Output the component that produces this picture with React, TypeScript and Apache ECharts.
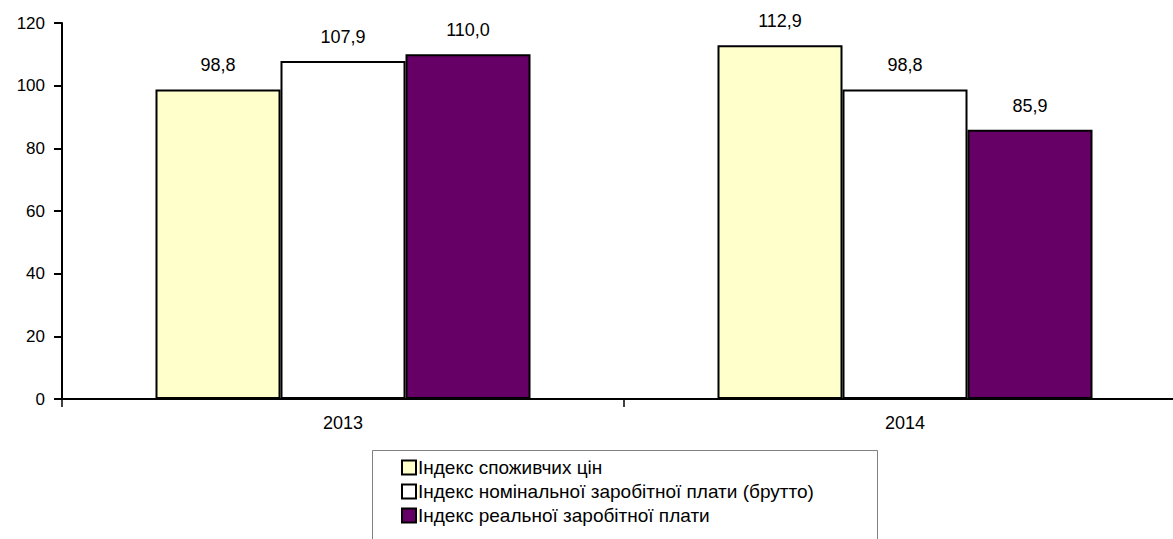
import React, { useEffect, useRef } from "react";
import * as echarts from "echarts";

const categories = ["2013", "2014"];
const seriesNames = [
  "Індекс споживчих цін",
  "Індекс номінальної заробітної плати (брутто)",
  "Індекс реальної заробітної плати",
];
const cpiValues = [98.8, 112.9];
const nominalValues = [107.9, 98.8];
const realValues = [110.0, 85.9];
const yTicks = { min: 0, max: 120, interval: 20 };
const seriesColors = ["#FFFFCC", "#FFFFFF", "#660066"];

const FONT = "'Liberation Sans', Arial, sans-serif";

export default function App() {
  const ref = useRef<HTMLDivElement>(null);
  useEffect(() => {
    if (!ref.current) return;
    const chart = echarts.init(ref.current, null, { renderer: "svg" });
    const data = [cpiValues, nominalValues, realValues];
    chart.setOption({
      animation: false,
      backgroundColor: "#ffffff",
      textStyle: { fontFamily: FONT },
      grid: { left: 62, top: 23, right: 4, height: 376, containLabel: false },
      xAxis: {
        type: "category",
        data: categories,
        axisLine: { lineStyle: { color: "#000", width: 2 } },
        axisTick: { show: true, inside: false, length: 8, alignWithLabel: false, lineStyle: { color: "#000", width: 1.5 } },
        axisLabel: { color: "#000", fontSize: 18, fontFamily: FONT, margin: 15 },
        splitLine: { show: false },
      },
      yAxis: {
        type: "value",
        min: yTicks.min,
        max: yTicks.max,
        interval: yTicks.interval,
        axisLine: { show: true, lineStyle: { color: "#000", width: 2 } },
        axisTick: { show: true, inside: false, length: 8, lineStyle: { color: "#000", width: 2 } },
        axisLabel: { color: "#000", fontSize: 17, fontFamily: FONT, margin: 17 },
        splitLine: { show: false },
      },
      legend: {
        orient: "vertical",
        left: 396,
        top: 453,
        itemWidth: 14,
        itemHeight: 14,
        itemGap: 5,
        icon: "rect",
        textStyle: { color: "#000", fontSize: 19, fontFamily: FONT, padding: [0, 0, 0, -3] },
        data: seriesNames,
      },
      graphic: [
        {
          type: "rect",
          shape: { x: 372.5, y: 450.5, width: 505, height: 100 },
          style: { fill: "none", stroke: "#808080", lineWidth: 1 },
          z: -1,
        },
      ],
      series: seriesNames.map((name, i) => ({
        name,
        type: "bar",
        data: data[i],
        barWidth: 125,
        barGap: "0%",
        itemStyle: { color: seriesColors[i], borderColor: "#000", borderWidth: 2 },
        label: {
          show: true,
          position: "top",
          distance: 15,
          color: "#000",
          fontSize: 18,
          fontFamily: FONT,
          formatter: (p: any) => Number(p.value).toFixed(1).replace(".", ","),
        },
      })),
    });
    return () => chart.dispose();
  }, []);
  return (
    <div style={{ position: "fixed", left: 0, top: 0, width: 1173, height: 539, overflow: "hidden", background: "#fff" }}>
      <div ref={ref} style={{ width: 1190, height: 539 }} />
    </div>
  );
}
